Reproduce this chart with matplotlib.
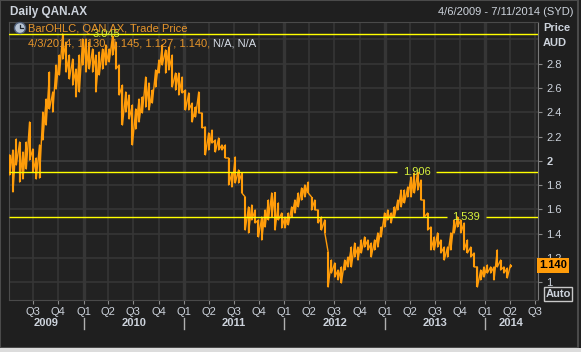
import matplotlib
matplotlib.use("Agg")
import matplotlib.pyplot as plt
from matplotlib.patches import Ellipse, Rectangle
import numpy as np
import pandas as pd

# bar highs / lows (about one bar every 12 days)
high = [2.048, 2.090, 2.180, 2.155, 2.073, 2.155, 2.320, 2.098, 2.024, 2.131,
        2.402, 2.509, 2.731, 2.567, 2.789, 2.871, 3.045, 2.978, 2.871, 2.838,
        2.756, 2.871, 3.003, 3.003, 2.978, 2.921, 2.871, 2.896, 2.921, 2.954,
        2.921, 3.028, 2.978, 2.789, 2.624, 2.567, 2.542, 2.460, 2.427, 2.509,
        2.526, 2.690, 2.641, 2.583, 2.748, 2.830, 2.954, 2.913, 2.937, 2.871,
        2.723, 2.723, 2.690, 2.583, 2.559, 2.476, 2.443, 2.567, 2.394, 2.279,
        2.230, 2.254, 2.172, 2.188, 2.131, 2.131, 2.024, 1.900, 2.032, 1.925,
        1.900, 1.703, 1.621, 1.637, 1.596, 1.514, 1.538, 1.596, 1.678, 1.736,
        1.740, 1.654, 1.571, 1.538, 1.571, 1.621, 1.678, 1.736, 1.777, 1.802,
        1.826, 1.703, 1.678, 1.596, 1.538, 1.514, 1.250, 1.184, 1.160, 1.102,
        1.127, 1.184, 1.209, 1.291, 1.324, 1.291, 1.349, 1.374, 1.349, 1.324,
        1.349, 1.407, 1.456, 1.571, 1.596, 1.571, 1.621, 1.678, 1.760,
        1.760, 1.785, 1.867, 1.900, 1.906, 1.843, 1.678, 1.571, 1.456, 1.374,
        1.407, 1.349, 1.291, 1.291, 1.407, 1.514, 1.539, 1.514, 1.489, 1.349,
        1.291, 1.242, 1.127, 1.102, 1.127, 1.143, 1.127, 1.127, 1.267, 1.184,
        1.127, 1.118, 1.145]
low = [1.884, 1.744, 1.966, 1.826, 1.851, 1.933, 2.007, 1.909, 1.851, 1.859,
       2.172, 2.295, 2.427, 2.402, 2.592, 2.707, 2.838, 2.731, 2.674, 2.624,
       2.526, 2.567, 2.789, 2.731, 2.756, 2.731, 2.567, 2.707, 2.756, 2.789,
       2.814, 2.871, 2.756, 2.542, 2.295, 2.402, 2.345, 2.131, 2.262, 2.320,
       2.394, 2.443, 2.419, 2.476, 2.608, 2.723, 2.789, 2.723, 2.748, 2.608,
       2.583, 2.542, 2.559, 2.419, 2.419, 2.320, 2.361, 2.394, 2.271, 2.049,
       2.090, 2.147, 2.073, 2.090, 2.090, 2.024, 1.802, 1.785, 1.818, 1.818,
       1.736, 1.431, 1.407, 1.514, 1.489, 1.374, 1.349, 1.456, 1.514, 1.538,
       1.431, 1.514, 1.448, 1.448, 1.473, 1.538, 1.571, 1.621, 1.678, 1.703,
       1.736, 1.596, 1.596, 1.489, 1.431, 1.407, 0.962, 1.077, 1.044, 1.020,
       0.995, 1.102, 1.127, 1.127, 1.209, 1.184, 1.242, 1.291, 1.267, 1.209,
       1.267, 1.291, 1.374, 1.456, 1.514, 1.489, 1.538, 1.596, 1.621,
       1.654, 1.703, 1.703, 1.736, 1.760, 1.678, 1.538, 1.431, 1.267, 1.267,
       1.291, 1.242, 1.184, 1.209, 1.267, 1.407, 1.456, 1.407, 1.267, 1.242,
       1.209, 1.127, 0.962, 1.020, 1.044, 1.077, 1.077, 1.020, 1.127, 1.102,
       1.077, 1.036, 1.127]

dates = pd.date_range("2009-04-07", "2014-04-03", periods=len(high))

levels = [3.045, 1.906, 1.539]
level_dates = pd.to_datetime(["2010-03-24", "2013-04-27", "2013-10-24"])

price_ticks = [1.0, 1.2, 1.4, 1.6, 1.8, 2.0, 2.2, 2.4, 2.6, 2.8]
price_labels = ["1", "1.2", "1.4", "1.6", "1.8", "2", "2.2", "2.4", "2.6", "2.8"]
quarters = pd.date_range("2009-07-01", "2014-07-01", freq="QS")
years = [2009, 2010, 2011, 2012, 2013, 2014]

last_bar = "4/3/2014, 1.130, 1.145, 1.127, 1.140, "
last_close = 1.140

BG = "#1f1f1f"
PLOT_BG = "#222222"
GRID = "#363636"
ORANGE = "#ff9c0a"
TXT = "#cdd3dc"
YEL = "#ffff00"
LBL = "#d8f23c"
W, H = 581, 352

plt.rcParams["font.family"] = ["Liberation Sans", "DejaVu Sans"]

fig = plt.figure(figsize=(W / 100, H / 100), dpi=100, facecolor=BG)
ax = fig.add_axes([9.4 / W, 1 - 300 / H, 528.4 / W, 278 / H])
ax.set_facecolor(PLOT_BG)

x0 = pd.Timestamp("2009-04-06")
x1 = pd.Timestamp("2014-07-11")
ax.set_xlim(x0, x1)
ax.set_ylim(0.855, 3.143)

# grid
for q in quarters:
    ax.axvline(q, color=GRID, lw=2.4 if q.month == 1 else 1.2, zorder=0)
for v in price_ticks + [3.0]:
    ax.axhline(v, color="#404040" if v == 2.0 else GRID, lw=1.2, zorder=0)

# price bars: each bar high->low, joined to the next bar's high
ax.vlines(dates, low, high, color=ORANGE, lw=1.5, zorder=3)
zx = np.repeat(dates.values, 2)
zy = np.column_stack([high, low]).ravel()
ax.plot(zx, zy, color=ORANGE, lw=1.0, zorder=3)

# horizontal level lines
gap = pd.Timedelta(days=71)
ax.axhline(levels[0], color=YEL, lw=1.0, zorder=4)
ax.text(level_dates[0], levels[0], "%.3f" % levels[0], color=LBL, fontsize=8,
        ha="center", va="center", zorder=5)
for v, d in zip(levels[1:], level_dates[1:]):
    ax.hlines(v, x0, d - gap, color=YEL, lw=1.0, zorder=4)
    ax.hlines(v, d + gap, x1, color=YEL, lw=1.0, zorder=4)
    ax.text(d, v, "%.3f" % v, color=LBL, fontsize=8, ha="center", va="center", zorder=5)

# axes styling
for s in ax.spines.values():
    s.set_color("#4a4a4a")
ax.spines["right"].set_color("#7a7a7a")
ax.yaxis.tick_right()
ax.set_yticks(price_ticks)
ax.set_yticklabels(price_labels)
for lab in ax.get_yticklabels():
    if lab.get_text() == "2":
        lab.set_fontweight("bold")
ax.set_xticks(quarters)
ax.set_xticklabels(["Q%d" % q.quarter for q in quarters])
ax.tick_params(axis="y", colors="#8a8a8a", labelcolor=TXT, labelsize=8, length=3, pad=3)
ax.tick_params(axis="x", colors="#8a8a8a", labelcolor=TXT, labelsize=8, length=3, pad=2)

# year labels and separators under the axis
tr = ax.get_xaxis_transform()
edges = [x0] + [pd.Timestamp("%d-01-01" % y) for y in years[1:]] + [x1]
for i, y in enumerate(years):
    mid = edges[i] + (edges[i + 1] - edges[i]) / 2
    ax.text(mid, -0.083, str(y), transform=tr, color=TXT, fontsize=8,
            fontweight="bold", ha="center", va="center")
for e in edges[1:-1]:
    ax.plot([e, e], [-0.066, -0.106], transform=tr, color="#b0b0b0", lw=1.0, clip_on=False)

# window frame
fig.patches.append(Rectangle((0, 4 / H), 578 / W, 1 - 4 / H, transform=fig.transFigure,
                             facecolor="none", edgecolor="#4a4a4a", lw=1.5, zorder=1))
fig.patches.append(Rectangle((0, 0), 1, 4 / H, transform=fig.transFigure,
                             facecolor="#dcdcdc", edgecolor="none", zorder=1))

# header texts
fig.text(10 / W, 1 - 12 / H, "Daily QAN.AX", color=TXT, fontsize=8.5, fontweight="bold",
         va="center", ha="left")
fig.text(574 / W, 1 - 12 / H, "4/6/2009 - 7/11/2014 (SYD)", color=TXT, fontsize=8,
         va="center", ha="right")
fig.text(543 / W, 1 - 28 / H, "Price", color=TXT, fontsize=8, fontweight="bold", va="center")
fig.text(543 / W, 1 - 42.5 / H, "AUD", color=TXT, fontsize=8, fontweight="bold", va="center")

# legend lines
fig.patches.append(Ellipse((20 / W, 1 - 28 / H), 11 / W, 11 / H, transform=fig.transFigure,
                           facecolor="#b8c4d4", edgecolor="#50607a", lw=1.0, zorder=6))
fig.lines.append(plt.Line2D([20 / W, 20 / W, 23 / W], [1 - 24.5 / H, 1 - 28 / H, 1 - 28 / H],
                            transform=fig.transFigure, color="#202830", lw=0.9, zorder=7))
fig.text(28 / W, 1 - 29 / H, "BarOHLC, QAN.AX, Trade Price", color="#e8962a", fontsize=8,
         va="center", zorder=6)
t = fig.text(28 / W, 1 - 44 / H, last_bar, color="#e8962a", fontsize=8, va="center", zorder=6)
fig.canvas.draw()
bb = t.get_window_extent()
fig.text(bb.x1 / W, 1 - 44 / H, "N/A, N/A", color="#d6dce6", fontsize=8, va="center", zorder=6)

# last price box and auto button
yb = ax.transData.transform((0, last_close))[1] / H
fig.text(539 / W, yb, "%.3f" % last_close, color="black", fontsize=8, fontweight="bold",
         va="center", ha="left", zorder=8,
         bbox=dict(boxstyle="square,pad=0.2", facecolor=ORANGE, edgecolor="none"))
fig.text(558 / W, 1 - 294 / H, "Auto", color=TXT, fontsize=8, fontweight="bold",
         va="center", ha="center", zorder=8,
         bbox=dict(boxstyle="square,pad=0.15", facecolor=BG, edgecolor="#c8c8c8", lw=1.0))

fig.savefig("out.png", dpi=100, facecolor=BG)
